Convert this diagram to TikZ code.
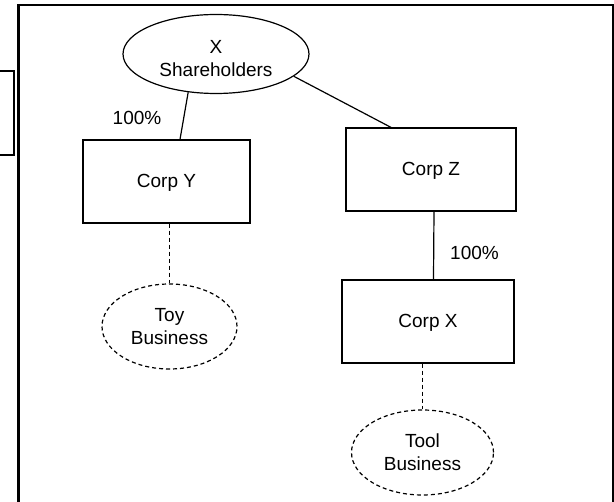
\documentclass[tikz,border=0pt]{standalone}
\usepackage{fontspec}
\setmainfont{Liberation Sans}
\usetikzlibrary{shapes.geometric,calc}
\begin{document}
\begin{tikzpicture}[x=1pt,y=-1pt,
  every node/.style={font=\fontsize{19}{23}\selectfont, inner sep=0pt},
  corpbox/.style={draw, rectangle, line width=1.2pt},
  holder/.style={draw, ellipse, line width=1.2pt},
  business/.style={draw, ellipse, dash pattern=on 4pt off 3pt, line width=1.2pt, align=center},
  link/.style={line width=1.2pt},
  dlink/.style={line width=1.2pt, dash pattern=on 4pt off 3pt},
  frame/.style={line width=2.5pt}]
\useasboundingbox (0,0) rectangle (614,502);
% frame
\draw[frame] (18.3,504) -- (18.3,5) -- (613,5) -- (613,504);
\draw[link] (-2,71) -- (14,71) -- (14,155) -- (-2,155);
% nodes
\node[holder, minimum width=186, minimum height=79] (sh) at (216,54) {};
\node[align=center] (shtext) at (216,59) {X\\Shareholders};
\node[corpbox, minimum width=167, minimum height=83, text depth=2pt] (corpy) at (166.5,181.5) {Corp Y};
\node[corpbox, minimum width=170, minimum height=83, text depth=2pt] (corpz) at (431,169.5) {Corp Z};
\node[corpbox, minimum width=172, minimum height=83, text depth=1pt] (corpx) at (428,321.5) {Corp X};
\node[business, minimum width=135, minimum height=85] (toy) at (169.5,326.5) {Toy\\Business};
\node[business, minimum width=142, minimum height=85] (tool) at (422.5,452.5) {Tool\\Business};
\node (py) at (137,117.5) {100\%};
\node (px) at (474.5,253) {100\%};
% connectors
\draw[link] (sh.234) -- ($(corpy.north)+(13.5,0)$);
\draw[link] (sh.344) -- ($(corpz.north)+(-40,0)$);
\draw[link] ($(corpz.south)+(3,0)$) -- ($(corpx.north)+(5.5,0)$);
\draw[dlink] (corpy.south -| toy.north) -- (toy.north);
\draw[dlink] (corpx.south -| tool.north) -- (tool.north);
\end{tikzpicture}
\end{document}
